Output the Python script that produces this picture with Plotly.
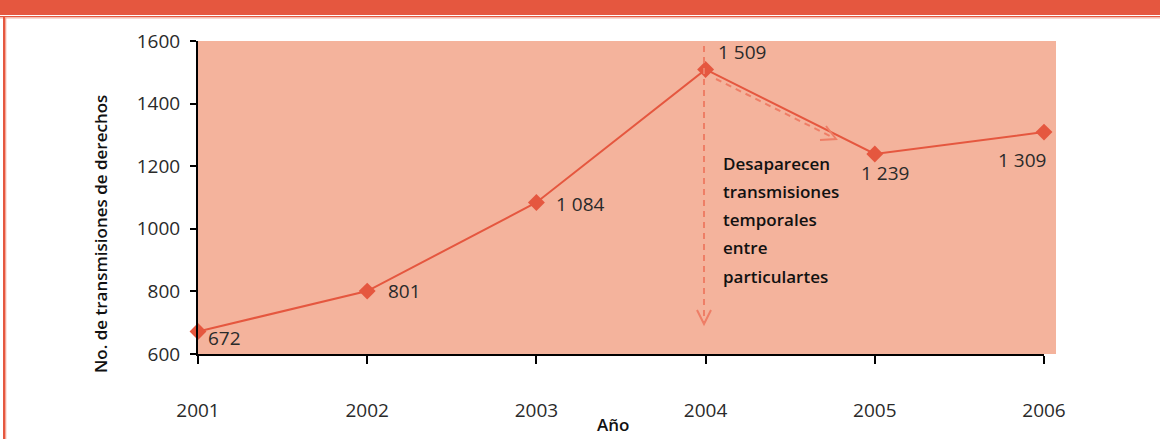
import plotly.graph_objects as go

years = [2001, 2002, 2003, 2004, 2005, 2006]
values = [672, 801, 1084, 1509, 1239, 1309]
labels = ["672", "801", "1 084", "1 509", "1 239", "1 309"]
y_ticks = [600, 800, 1000, 1200, 1400, 1600]
note_lines = ["Desaparecen", "transmisiones", "temporales", "entre", "particulartes"]

W, H = 1160, 439
L, R, T, B = 198, 1044, 41, 354
XMIN, XMAX = 2001, 2006
YMIN, YMAX = 600, 1600

def px2x(px):
    return XMIN + (px - L) / (R - L) * (XMAX - XMIN)

def py2y(py):
    return YMIN + (B - py) / (B - T) * (YMAX - YMIN)

def pxp(px):
    return (px - L) / (R - L)

def pyp(py):
    return (B - py) / (B - T)

RED = "#E5573F"
SALMON = "#F4B39C"
DASH = "#EE7E66"
FONT = "Open Sans"
TXT = "#2a2a2a"

fig = go.Figure()
fig.add_trace(go.Scatter(
    x=years, y=values, mode="lines+markers",
    line=dict(color=RED, width=2),
    marker=dict(symbol="diamond", size=13, color=RED),
    cliponaxis=False, hoverinfo="skip", showlegend=False,
))

shapes = []
# background extension to the right
shapes.append(dict(type="rect", xref="paper", yref="paper", x0=0, x1=pxp(1056),
                   y0=0, y1=1, fillcolor=SALMON, line=dict(width=0), layer="below"))
# top banner
shapes.append(dict(type="rect", xref="paper", yref="paper", x0=pxp(-5), x1=pxp(1165),
                   y0=pyp(15), y1=pyp(-5), fillcolor=RED, line=dict(width=0), layer="below"))
shapes.append(dict(type="rect", xref="paper", yref="paper", x0=pxp(-5), x1=pxp(1165),
                   y0=pyp(17.2), y1=pyp(16), fillcolor=RED, line=dict(width=0), layer="below"))
shapes.append(dict(type="rect", xref="paper", yref="paper", x0=pxp(-5), x1=pxp(1165),
                   y0=pyp(18.5), y1=pyp(17.2), fillcolor="#F5B2A2", line=dict(width=0), layer="below"))
# left border
shapes.append(dict(type="rect", xref="paper", yref="paper", x0=pxp(3), x1=pxp(5),
                   y0=pyp(445), y1=pyp(17), fillcolor=RED, line=dict(width=0), layer="below"))
shapes.append(dict(type="rect", xref="paper", yref="paper", x0=pxp(5), x1=pxp(6.3),
                   y0=pyp(445), y1=pyp(17), fillcolor="#F5A898", line=dict(width=0), layer="below"))

dline = dict(color=DASH, width=2, dash="6px,5px")
sline = dict(color=DASH, width=2)
# vertical dashed arrow at 2004
shapes.append(dict(type="line", xref="x", yref="y", x0=px2x(704), x1=px2x(704),
                   y0=py2y(46), y1=py2y(322), line=dline))
shapes.append(dict(type="path", xref="x", yref="y",
                   path=f"M {px2x(697)},{py2y(310)} L {px2x(704)},{py2y(324)} L {px2x(711)},{py2y(310)}",
                   line=sline))
# diagonal dashed arrow
shapes.append(dict(type="line", xref="x", yref="y", x0=px2x(716), x1=px2x(834),
                   y0=py2y(79), y1=py2y(138), line=dline))
shapes.append(dict(type="path", xref="x", yref="y",
                   path=f"M {px2x(826)},{py2y(126)} L {px2x(836)},{py2y(139)} L {px2x(820)},{py2y(140)}",
                   line=sline))

annotations = []
offsets = [(8, -7, "left"), (19, 0, "left"), (18, -1, "left"),
           (10, 17, "left"), (-16, -19, "left"), (-48, -28, "left")]
for xv, yv, lab, (dx, dy, anc) in zip(years, values, labels, offsets):
    annotations.append(dict(x=xv, y=yv, xref="x", yref="y", text=lab, showarrow=False,
                            xanchor=anc, yanchor="middle", xshift=dx, yshift=dy,
                            font=dict(family=FONT, size=19, color=TXT)))
for i, line in enumerate(note_lines):
    annotations.append(dict(x=pxp(721), y=pyp(163 + i * 28.3), xref="paper", yref="paper",
                            text=line, showarrow=False, xanchor="left", yanchor="middle",
                            font=dict(family=FONT, size=17, color="#111111", weight=600)))
annotations.append(dict(x=pxp(613), y=pyp(424), xref="paper", yref="paper", text="Año",
                        showarrow=False, xanchor="center", yanchor="middle",
                        font=dict(family=FONT, size=17, color="#111111", weight=600)))
annotations.append(dict(x=pxp(100), y=pyp(234), xref="paper", yref="paper",
                        text="No. de transmisiones de derechos", textangle=-90,
                        showarrow=False, xanchor="center", yanchor="middle",
                        font=dict(family=FONT, size=17, color="#111111", weight=600)))

fig.update_layout(
    width=W, height=H, autosize=False,
    margin=dict(l=L, r=W - R, t=T, b=H - B, pad=0),
    paper_bgcolor="white", plot_bgcolor=SALMON,
    shapes=shapes, annotations=annotations,
    xaxis=dict(range=[XMIN, XMAX], tickvals=years, ticktext=[str(y) for y in years],
               showgrid=False, zeroline=False, showline=True, linecolor="black", linewidth=2,
               ticks="outside", ticklen=8, tickwidth=2, tickcolor="black",
               ticklabelstandoff=30,
               tickfont=dict(family=FONT, size=19, color=TXT)),
    yaxis=dict(range=[YMIN, YMAX], tickvals=y_ticks,
               showgrid=False, zeroline=False, showline=True, linecolor="black", linewidth=2,
               ticks="outside", ticklen=6, tickwidth=2, tickcolor="black",
               ticklabelstandoff=6,
               tickfont=dict(family=FONT, size=19, color=TXT)),
)

fig.write_html("out.html", config={"displayModeBar": False},
               post_script="document.body.style.margin='0px';document.body.style.overflow='hidden';")
